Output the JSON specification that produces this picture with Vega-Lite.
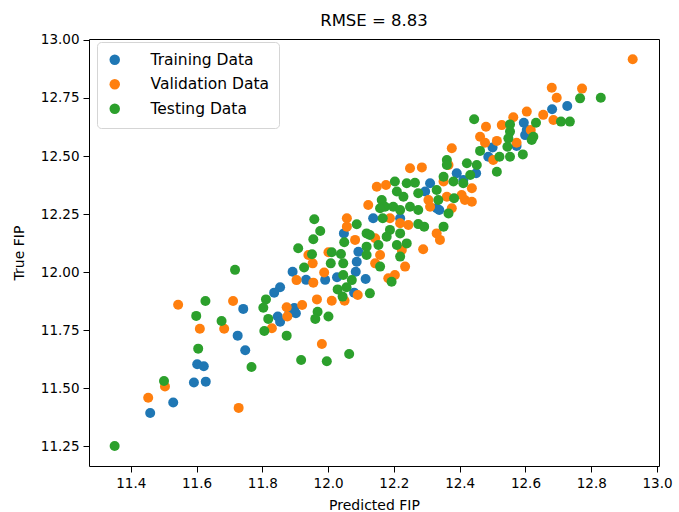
{
  "$schema": "https://vega.github.io/schema/vega-lite/v6.json",
  "width": 570,
  "height": 427,
  "autosize": {"type": "none"},
  "padding": {"left": 89, "top": 39, "right": 20, "bottom": 46},
  "background": "white",
  "config": {
    "font": "DejaVu Sans",
    "view": {"stroke": "#000000", "strokeWidth": 1},
    "axis": {"grid": false, "domain": false, "tickColor": "#000000", "tickSize": 6, "labelColor": "#000000", "labelFont": "DejaVu Sans", "labelFontSize": 13.5, "titleFont": "DejaVu Sans", "titleFontSize": 14, "titleFontWeight": "normal", "titleColor": "#000000", "labelPadding": 4}
  },
  "title": {"text": "RMSE = 8.83", "fontSize": 16.5, "fontWeight": "normal", "font": "DejaVu Sans", "color": "#000000", "anchor": "middle", "offset": 3},
  "data": {"values": [
    {"x": 11.742, "y": 11.842, "s": "Training Data"},
    {"x": 11.725, "y": 11.727, "s": "Training Data"},
    {"x": 11.748, "y": 11.664, "s": "Training Data"},
    {"x": 11.602, "y": 11.604, "s": "Training Data"},
    {"x": 11.622, "y": 11.595, "s": "Training Data"},
    {"x": 11.592, "y": 11.525, "s": "Training Data"},
    {"x": 11.628, "y": 11.529, "s": "Training Data"},
    {"x": 11.529, "y": 11.439, "s": "Training Data"},
    {"x": 11.459, "y": 11.394, "s": "Training Data"},
    {"x": 12.048, "y": 12.167, "s": "Training Data"},
    {"x": 12.092, "y": 12.088, "s": "Training Data"},
    {"x": 12.087, "y": 12.045, "s": "Training Data"},
    {"x": 11.892, "y": 12.002, "s": "Training Data"},
    {"x": 12.027, "y": 11.978, "s": "Training Data"},
    {"x": 12.084, "y": 12.002, "s": "Training Data"},
    {"x": 12.114, "y": 11.971, "s": "Training Data"},
    {"x": 11.933, "y": 11.967, "s": "Training Data"},
    {"x": 11.991, "y": 11.967, "s": "Training Data"},
    {"x": 11.854, "y": 11.935, "s": "Training Data"},
    {"x": 11.836, "y": 11.912, "s": "Training Data"},
    {"x": 12.079, "y": 11.912, "s": "Training Data"},
    {"x": 11.897, "y": 11.846, "s": "Training Data"},
    {"x": 11.882, "y": 11.823, "s": "Training Data"},
    {"x": 11.902, "y": 11.823, "s": "Training Data"},
    {"x": 11.847, "y": 11.809, "s": "Training Data"},
    {"x": 11.854, "y": 11.787, "s": "Training Data"},
    {"x": 12.391, "y": 12.426, "s": "Training Data"},
    {"x": 12.310, "y": 12.383, "s": "Training Data"},
    {"x": 12.295, "y": 12.347, "s": "Training Data"},
    {"x": 12.330, "y": 12.275, "s": "Training Data"},
    {"x": 12.137, "y": 12.232, "s": "Training Data"},
    {"x": 12.219, "y": 12.232, "s": "Training Data"},
    {"x": 12.681, "y": 12.701, "s": "Training Data"},
    {"x": 12.727, "y": 12.715, "s": "Training Data"},
    {"x": 12.595, "y": 12.643, "s": "Training Data"},
    {"x": 12.604, "y": 12.612, "s": "Training Data"},
    {"x": 12.599, "y": 12.590, "s": "Training Data"},
    {"x": 12.500, "y": 12.537, "s": "Training Data"},
    {"x": 12.573, "y": 12.543, "s": "Training Data"},
    {"x": 12.487, "y": 12.497, "s": "Training Data"},
    {"x": 12.450, "y": 12.426, "s": "Training Data"},
    {"x": 12.411, "y": 12.397, "s": "Training Data"},
    {"x": 12.338, "y": 12.268, "s": "Training Data"},
    {"x": 11.544, "y": 11.860, "s": "Validation Data"},
    {"x": 11.711, "y": 11.876, "s": "Validation Data"},
    {"x": 11.610, "y": 11.757, "s": "Validation Data"},
    {"x": 11.684, "y": 11.757, "s": "Validation Data"},
    {"x": 11.504, "y": 11.508, "s": "Validation Data"},
    {"x": 11.453, "y": 11.460, "s": "Validation Data"},
    {"x": 11.728, "y": 11.416, "s": "Validation Data"},
    {"x": 12.122, "y": 12.289, "s": "Validation Data"},
    {"x": 12.057, "y": 12.232, "s": "Validation Data"},
    {"x": 12.057, "y": 12.196, "s": "Validation Data"},
    {"x": 12.082, "y": 12.139, "s": "Validation Data"},
    {"x": 11.940, "y": 12.074, "s": "Validation Data"},
    {"x": 12.001, "y": 12.086, "s": "Validation Data"},
    {"x": 11.953, "y": 12.038, "s": "Validation Data"},
    {"x": 11.988, "y": 11.999, "s": "Validation Data"},
    {"x": 11.904, "y": 11.966, "s": "Validation Data"},
    {"x": 11.955, "y": 11.955, "s": "Validation Data"},
    {"x": 12.090, "y": 11.902, "s": "Validation Data"},
    {"x": 11.966, "y": 11.883, "s": "Validation Data"},
    {"x": 12.011, "y": 11.877, "s": "Validation Data"},
    {"x": 12.050, "y": 11.877, "s": "Validation Data"},
    {"x": 11.921, "y": 11.859, "s": "Validation Data"},
    {"x": 11.874, "y": 11.849, "s": "Validation Data"},
    {"x": 11.876, "y": 11.809, "s": "Validation Data"},
    {"x": 11.829, "y": 11.759, "s": "Validation Data"},
    {"x": 11.981, "y": 11.691, "s": "Validation Data"},
    {"x": 12.376, "y": 12.533, "s": "Validation Data"},
    {"x": 12.366, "y": 12.461, "s": "Validation Data"},
    {"x": 12.249, "y": 12.447, "s": "Validation Data"},
    {"x": 12.285, "y": 12.451, "s": "Validation Data"},
    {"x": 12.148, "y": 12.368, "s": "Validation Data"},
    {"x": 12.176, "y": 12.375, "s": "Validation Data"},
    {"x": 12.351, "y": 12.390, "s": "Validation Data"},
    {"x": 12.305, "y": 12.311, "s": "Validation Data"},
    {"x": 12.361, "y": 12.325, "s": "Validation Data"},
    {"x": 12.416, "y": 12.311, "s": "Validation Data"},
    {"x": 12.310, "y": 12.282, "s": "Validation Data"},
    {"x": 12.376, "y": 12.275, "s": "Validation Data"},
    {"x": 12.188, "y": 12.232, "s": "Validation Data"},
    {"x": 12.219, "y": 12.211, "s": "Validation Data"},
    {"x": 12.244, "y": 12.203, "s": "Validation Data"},
    {"x": 12.330, "y": 12.167, "s": "Validation Data"},
    {"x": 12.340, "y": 12.139, "s": "Validation Data"},
    {"x": 12.143, "y": 12.146, "s": "Validation Data"},
    {"x": 12.289, "y": 12.099, "s": "Validation Data"},
    {"x": 12.224, "y": 12.096, "s": "Validation Data"},
    {"x": 12.234, "y": 12.024, "s": "Validation Data"},
    {"x": 12.203, "y": 11.988, "s": "Validation Data"},
    {"x": 12.158, "y": 12.074, "s": "Validation Data"},
    {"x": 12.143, "y": 12.038, "s": "Validation Data"},
    {"x": 12.183, "y": 11.974, "s": "Validation Data"},
    {"x": 12.680, "y": 12.794, "s": "Validation Data"},
    {"x": 12.695, "y": 12.751, "s": "Validation Data"},
    {"x": 12.604, "y": 12.691, "s": "Validation Data"},
    {"x": 12.654, "y": 12.677, "s": "Validation Data"},
    {"x": 12.685, "y": 12.655, "s": "Validation Data"},
    {"x": 12.563, "y": 12.667, "s": "Validation Data"},
    {"x": 12.480, "y": 12.626, "s": "Validation Data"},
    {"x": 12.528, "y": 12.633, "s": "Validation Data"},
    {"x": 12.616, "y": 12.612, "s": "Validation Data"},
    {"x": 12.462, "y": 12.583, "s": "Validation Data"},
    {"x": 12.513, "y": 12.565, "s": "Validation Data"},
    {"x": 12.477, "y": 12.557, "s": "Validation Data"},
    {"x": 12.573, "y": 12.557, "s": "Validation Data"},
    {"x": 12.502, "y": 12.483, "s": "Validation Data"},
    {"x": 12.437, "y": 12.361, "s": "Validation Data"},
    {"x": 12.406, "y": 12.332, "s": "Validation Data"},
    {"x": 12.437, "y": 12.303, "s": "Validation Data"},
    {"x": 12.926, "y": 12.916, "s": "Validation Data"},
    {"x": 12.772, "y": 12.790, "s": "Validation Data"},
    {"x": 11.811, "y": 11.883, "s": "Testing Data"},
    {"x": 11.803, "y": 11.847, "s": "Testing Data"},
    {"x": 11.806, "y": 11.747, "s": "Testing Data"},
    {"x": 11.627, "y": 11.876, "s": "Testing Data"},
    {"x": 11.599, "y": 11.812, "s": "Testing Data"},
    {"x": 11.676, "y": 11.790, "s": "Testing Data"},
    {"x": 11.605, "y": 11.671, "s": "Testing Data"},
    {"x": 11.767, "y": 11.592, "s": "Testing Data"},
    {"x": 11.501, "y": 11.532, "s": "Testing Data"},
    {"x": 11.351, "y": 11.252, "s": "Testing Data"},
    {"x": 11.958, "y": 12.228, "s": "Testing Data"},
    {"x": 12.087, "y": 12.206, "s": "Testing Data"},
    {"x": 11.976, "y": 12.177, "s": "Testing Data"},
    {"x": 12.117, "y": 12.167, "s": "Testing Data"},
    {"x": 11.955, "y": 12.142, "s": "Testing Data"},
    {"x": 12.049, "y": 12.129, "s": "Testing Data"},
    {"x": 11.909, "y": 12.103, "s": "Testing Data"},
    {"x": 11.951, "y": 12.077, "s": "Testing Data"},
    {"x": 12.011, "y": 12.086, "s": "Testing Data"},
    {"x": 12.039, "y": 12.078, "s": "Testing Data"},
    {"x": 12.008, "y": 12.038, "s": "Testing Data"},
    {"x": 12.046, "y": 12.038, "s": "Testing Data"},
    {"x": 11.717, "y": 12.010, "s": "Testing Data"},
    {"x": 11.927, "y": 12.020, "s": "Testing Data"},
    {"x": 12.046, "y": 11.988, "s": "Testing Data"},
    {"x": 12.072, "y": 11.966, "s": "Testing Data"},
    {"x": 12.029, "y": 11.926, "s": "Testing Data"},
    {"x": 12.056, "y": 11.935, "s": "Testing Data"},
    {"x": 12.044, "y": 11.895, "s": "Testing Data"},
    {"x": 11.968, "y": 11.830, "s": "Testing Data"},
    {"x": 11.961, "y": 11.799, "s": "Testing Data"},
    {"x": 12.001, "y": 11.809, "s": "Testing Data"},
    {"x": 11.818, "y": 11.799, "s": "Testing Data"},
    {"x": 11.874, "y": 11.727, "s": "Testing Data"},
    {"x": 12.064, "y": 11.648, "s": "Testing Data"},
    {"x": 11.918, "y": 11.622, "s": "Testing Data"},
    {"x": 11.996, "y": 11.617, "s": "Testing Data"},
    {"x": 12.361, "y": 12.483, "s": "Testing Data"},
    {"x": 12.422, "y": 12.469, "s": "Testing Data"},
    {"x": 12.351, "y": 12.411, "s": "Testing Data"},
    {"x": 12.203, "y": 12.390, "s": "Testing Data"},
    {"x": 12.239, "y": 12.383, "s": "Testing Data"},
    {"x": 12.264, "y": 12.385, "s": "Testing Data"},
    {"x": 12.330, "y": 12.354, "s": "Testing Data"},
    {"x": 12.381, "y": 12.390, "s": "Testing Data"},
    {"x": 12.411, "y": 12.383, "s": "Testing Data"},
    {"x": 12.209, "y": 12.347, "s": "Testing Data"},
    {"x": 12.229, "y": 12.325, "s": "Testing Data"},
    {"x": 12.274, "y": 12.340, "s": "Testing Data"},
    {"x": 12.335, "y": 12.311, "s": "Testing Data"},
    {"x": 12.383, "y": 12.318, "s": "Testing Data"},
    {"x": 12.163, "y": 12.311, "s": "Testing Data"},
    {"x": 12.173, "y": 12.282, "s": "Testing Data"},
    {"x": 12.158, "y": 12.275, "s": "Testing Data"},
    {"x": 12.198, "y": 12.282, "s": "Testing Data"},
    {"x": 12.219, "y": 12.268, "s": "Testing Data"},
    {"x": 12.249, "y": 12.282, "s": "Testing Data"},
    {"x": 12.274, "y": 12.268, "s": "Testing Data"},
    {"x": 12.166, "y": 12.232, "s": "Testing Data"},
    {"x": 12.274, "y": 12.207, "s": "Testing Data"},
    {"x": 12.292, "y": 12.196, "s": "Testing Data"},
    {"x": 12.351, "y": 12.196, "s": "Testing Data"},
    {"x": 12.188, "y": 12.182, "s": "Testing Data"},
    {"x": 12.219, "y": 12.167, "s": "Testing Data"},
    {"x": 12.239, "y": 12.124, "s": "Testing Data"},
    {"x": 12.127, "y": 12.160, "s": "Testing Data"},
    {"x": 12.153, "y": 12.117, "s": "Testing Data"},
    {"x": 12.117, "y": 12.110, "s": "Testing Data"},
    {"x": 12.178, "y": 12.153, "s": "Testing Data"},
    {"x": 12.209, "y": 12.117, "s": "Testing Data"},
    {"x": 12.219, "y": 12.067, "s": "Testing Data"},
    {"x": 12.193, "y": 11.959, "s": "Testing Data"},
    {"x": 12.158, "y": 12.024, "s": "Testing Data"},
    {"x": 12.117, "y": 12.074, "s": "Testing Data"},
    {"x": 12.127, "y": 11.909, "s": "Testing Data"},
    {"x": 12.444, "y": 12.658, "s": "Testing Data"},
    {"x": 12.553, "y": 12.636, "s": "Testing Data"},
    {"x": 12.632, "y": 12.643, "s": "Testing Data"},
    {"x": 12.708, "y": 12.648, "s": "Testing Data"},
    {"x": 12.735, "y": 12.648, "s": "Testing Data"},
    {"x": 12.553, "y": 12.605, "s": "Testing Data"},
    {"x": 12.624, "y": 12.583, "s": "Testing Data"},
    {"x": 12.548, "y": 12.576, "s": "Testing Data"},
    {"x": 12.545, "y": 12.540, "s": "Testing Data"},
    {"x": 12.619, "y": 12.569, "s": "Testing Data"},
    {"x": 12.462, "y": 12.522, "s": "Testing Data"},
    {"x": 12.521, "y": 12.497, "s": "Testing Data"},
    {"x": 12.553, "y": 12.497, "s": "Testing Data"},
    {"x": 12.592, "y": 12.507, "s": "Testing Data"},
    {"x": 12.513, "y": 12.432, "s": "Testing Data"},
    {"x": 12.361, "y": 12.461, "s": "Testing Data"},
    {"x": 12.452, "y": 12.461, "s": "Testing Data"},
    {"x": 12.432, "y": 12.418, "s": "Testing Data"},
    {"x": 12.366, "y": 12.253, "s": "Testing Data"},
    {"x": 12.766, "y": 12.748, "s": "Testing Data"},
    {"x": 12.829, "y": 12.751, "s": "Testing Data"}
  ]},
  "mark": {"type": "point", "filled": true, "size": 100, "opacity": 1, "strokeWidth": 0},
  "encoding": {
    "x": {"field": "x", "type": "quantitative", "title": "Predicted FIP",
      "scale": {"domain": [11.273, 13.006], "zero": false, "nice": false},
      "axis": {"values": [11.4, 11.6, 11.8, 12.0, 12.2, 12.4, 12.6, 12.8, 13.0], "format": ".1f", "titlePadding": 9, "labelFlush": false}},
    "y": {"field": "y", "type": "quantitative", "title": "True FIP",
      "scale": {"domain": [11.166, 13.0035], "zero": false, "nice": false},
      "axis": {"values": [11.25, 11.5, 11.75, 12.0, 12.25, 12.5, 12.75, 13.0], "format": ".2f", "titlePadding": 14, "labelFlush": false}},
    "color": {"field": "s", "type": "nominal",
      "scale": {"domain": ["Training Data", "Validation Data", "Testing Data"], "range": ["#1f77b4", "#ff7f0e", "#2ca02c"]},
      "legend": {"title": null, "orient": "none", "legendX": 8, "legendY": 3, "fillColor": "white", "strokeColor": "#d5d5d5", "cornerRadius": 4, "padding": 10, "symbolType": "circle", "symbolSize": 110, "symbolStrokeWidth": 0, "labelFontSize": 15.5, "labelFont": "DejaVu Sans", "labelColor": "#000000", "rowPadding": 7.5, "labelOffset": 28}}
  }
}
